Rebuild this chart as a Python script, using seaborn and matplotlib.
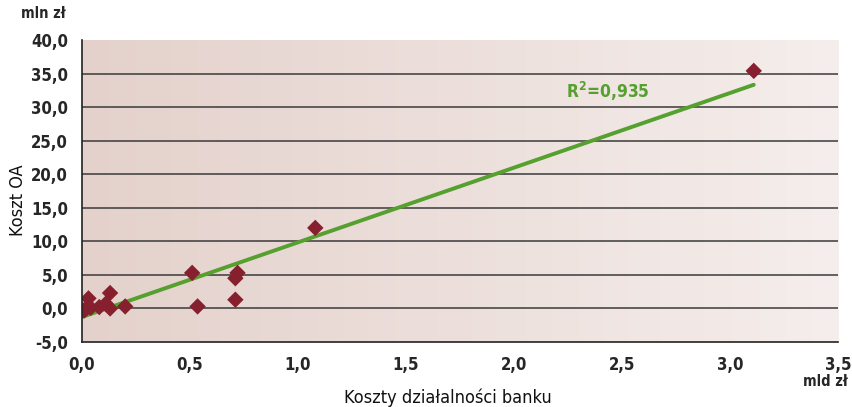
import matplotlib
matplotlib.use("Agg")
import matplotlib.pyplot as plt
from matplotlib.colors import LinearSegmentedColormap
import numpy as np
import pandas as pd
import seaborn as sns

# koszty działalności banku (mld zł) vs koszt OA (mln zł)
koszty_banku = [0.00, 0.01, 0.02, 0.03, 0.04, 0.08, 0.11, 0.13, 0.13, 0.20,
                0.51, 0.535, 0.71, 0.71, 0.72, 1.08, 3.11]
koszt_oa = [-0.2, -0.3, 0.0, 1.5, 0.1, 0.2, 0.7, 0.0, 2.3, 0.3,
            5.3, 0.3, 1.3, 4.5, 5.3, 12.0, 35.4]
x_ticks = [0.0, 0.5, 1.0, 1.5, 2.0, 2.5, 3.0, 3.5]
y_ticks = [-5.0, 0.0, 5.0, 10.0, 15.0, 20.0, 25.0, 30.0, 35.0, 40.0]
r2_label = "0,935"

df = pd.DataFrame({"Koszty": koszty_banku, "OA": koszt_oa})

sns.set_style("white")
plt.rcParams["font.family"] = ["DejaVu Sans"]
plt.rcParams["font.stretch"] = "condensed"

fig = plt.figure(figsize=(8.52, 4.07), dpi=100)
ax = fig.add_axes([82 / 852, 1 - 342 / 407, 756 / 852, 302 / 407])

# gradient background of plot area
bg = LinearSegmentedColormap.from_list("bg", ["#e4d1cb", "#f5eeec"])
ax.imshow(np.linspace(0, 1, 256).reshape(1, -1), cmap=bg, aspect="auto",
          extent=[0, 3.5, -5, 40], zorder=0)

for y in y_ticks[1:-1]:
    ax.axhline(y, color="#3a3a3a", linewidth=1.1, zorder=1)

sns.regplot(x="Koszty", y="OA", data=df, ax=ax, ci=None, scatter=False,
            truncate=True, line_kws={"color": "#55a02e", "linewidth": 2.8, "zorder": 2})
sns.scatterplot(x="Koszty", y="OA", data=df, ax=ax, marker="D", s=70,
                color="#86202f", edgecolor="none", zorder=3)

ax.set_xlim(0, 3.5)
ax.set_ylim(-5, 40)
ax.set_xticks(x_ticks)
ax.set_yticks(y_ticks)
ax.set_xticklabels([f"{t:.1f}".replace(".", ",") for t in x_ticks])
ax.set_yticklabels([f"{t:.1f}".replace(".", ",") for t in y_ticks])
ax.tick_params(axis="both", length=6, width=1.2, color="#222222",
               labelsize=12, direction="out", pad=4)
for lbl in ax.get_xticklabels() + ax.get_yticklabels():
    lbl.set_fontweight("semibold")
for side in ["top", "right"]:
    ax.spines[side].set_visible(False)
for side in ["left", "bottom"]:
    ax.spines[side].set_color("#222222")
    ax.spines[side].set_linewidth(1.2)
    ax.spines[side].set_zorder(4)

ax.set_xlabel("")
ax.set_ylabel("")
fig.text(448 / 852, 1 - 398 / 407, "Koszty działalności banku", fontsize=13,
         ha="center", va="center", color="#111111")
fig.text(18 / 852, 1 - 200 / 407, "Koszt OA", fontsize=13, rotation=90,
         ha="center", va="center", color="#111111")
fig.text(43 / 852, 1 - 14 / 407, "mln zł", fontsize=10.5, fontweight="semibold",
         ha="center", va="center")
fig.text(848 / 852, 1 - 381 / 407, "mld zł", fontsize=10.5, fontweight="semibold",
         ha="right", va="center")
ax.text(2.24, 32.4, "R$^\\mathbf{2}$=" + r2_label, fontsize=12.5, fontweight="bold",
        color="#55a02e", ha="left", va="center")

fig.savefig("out.png", dpi=100)
